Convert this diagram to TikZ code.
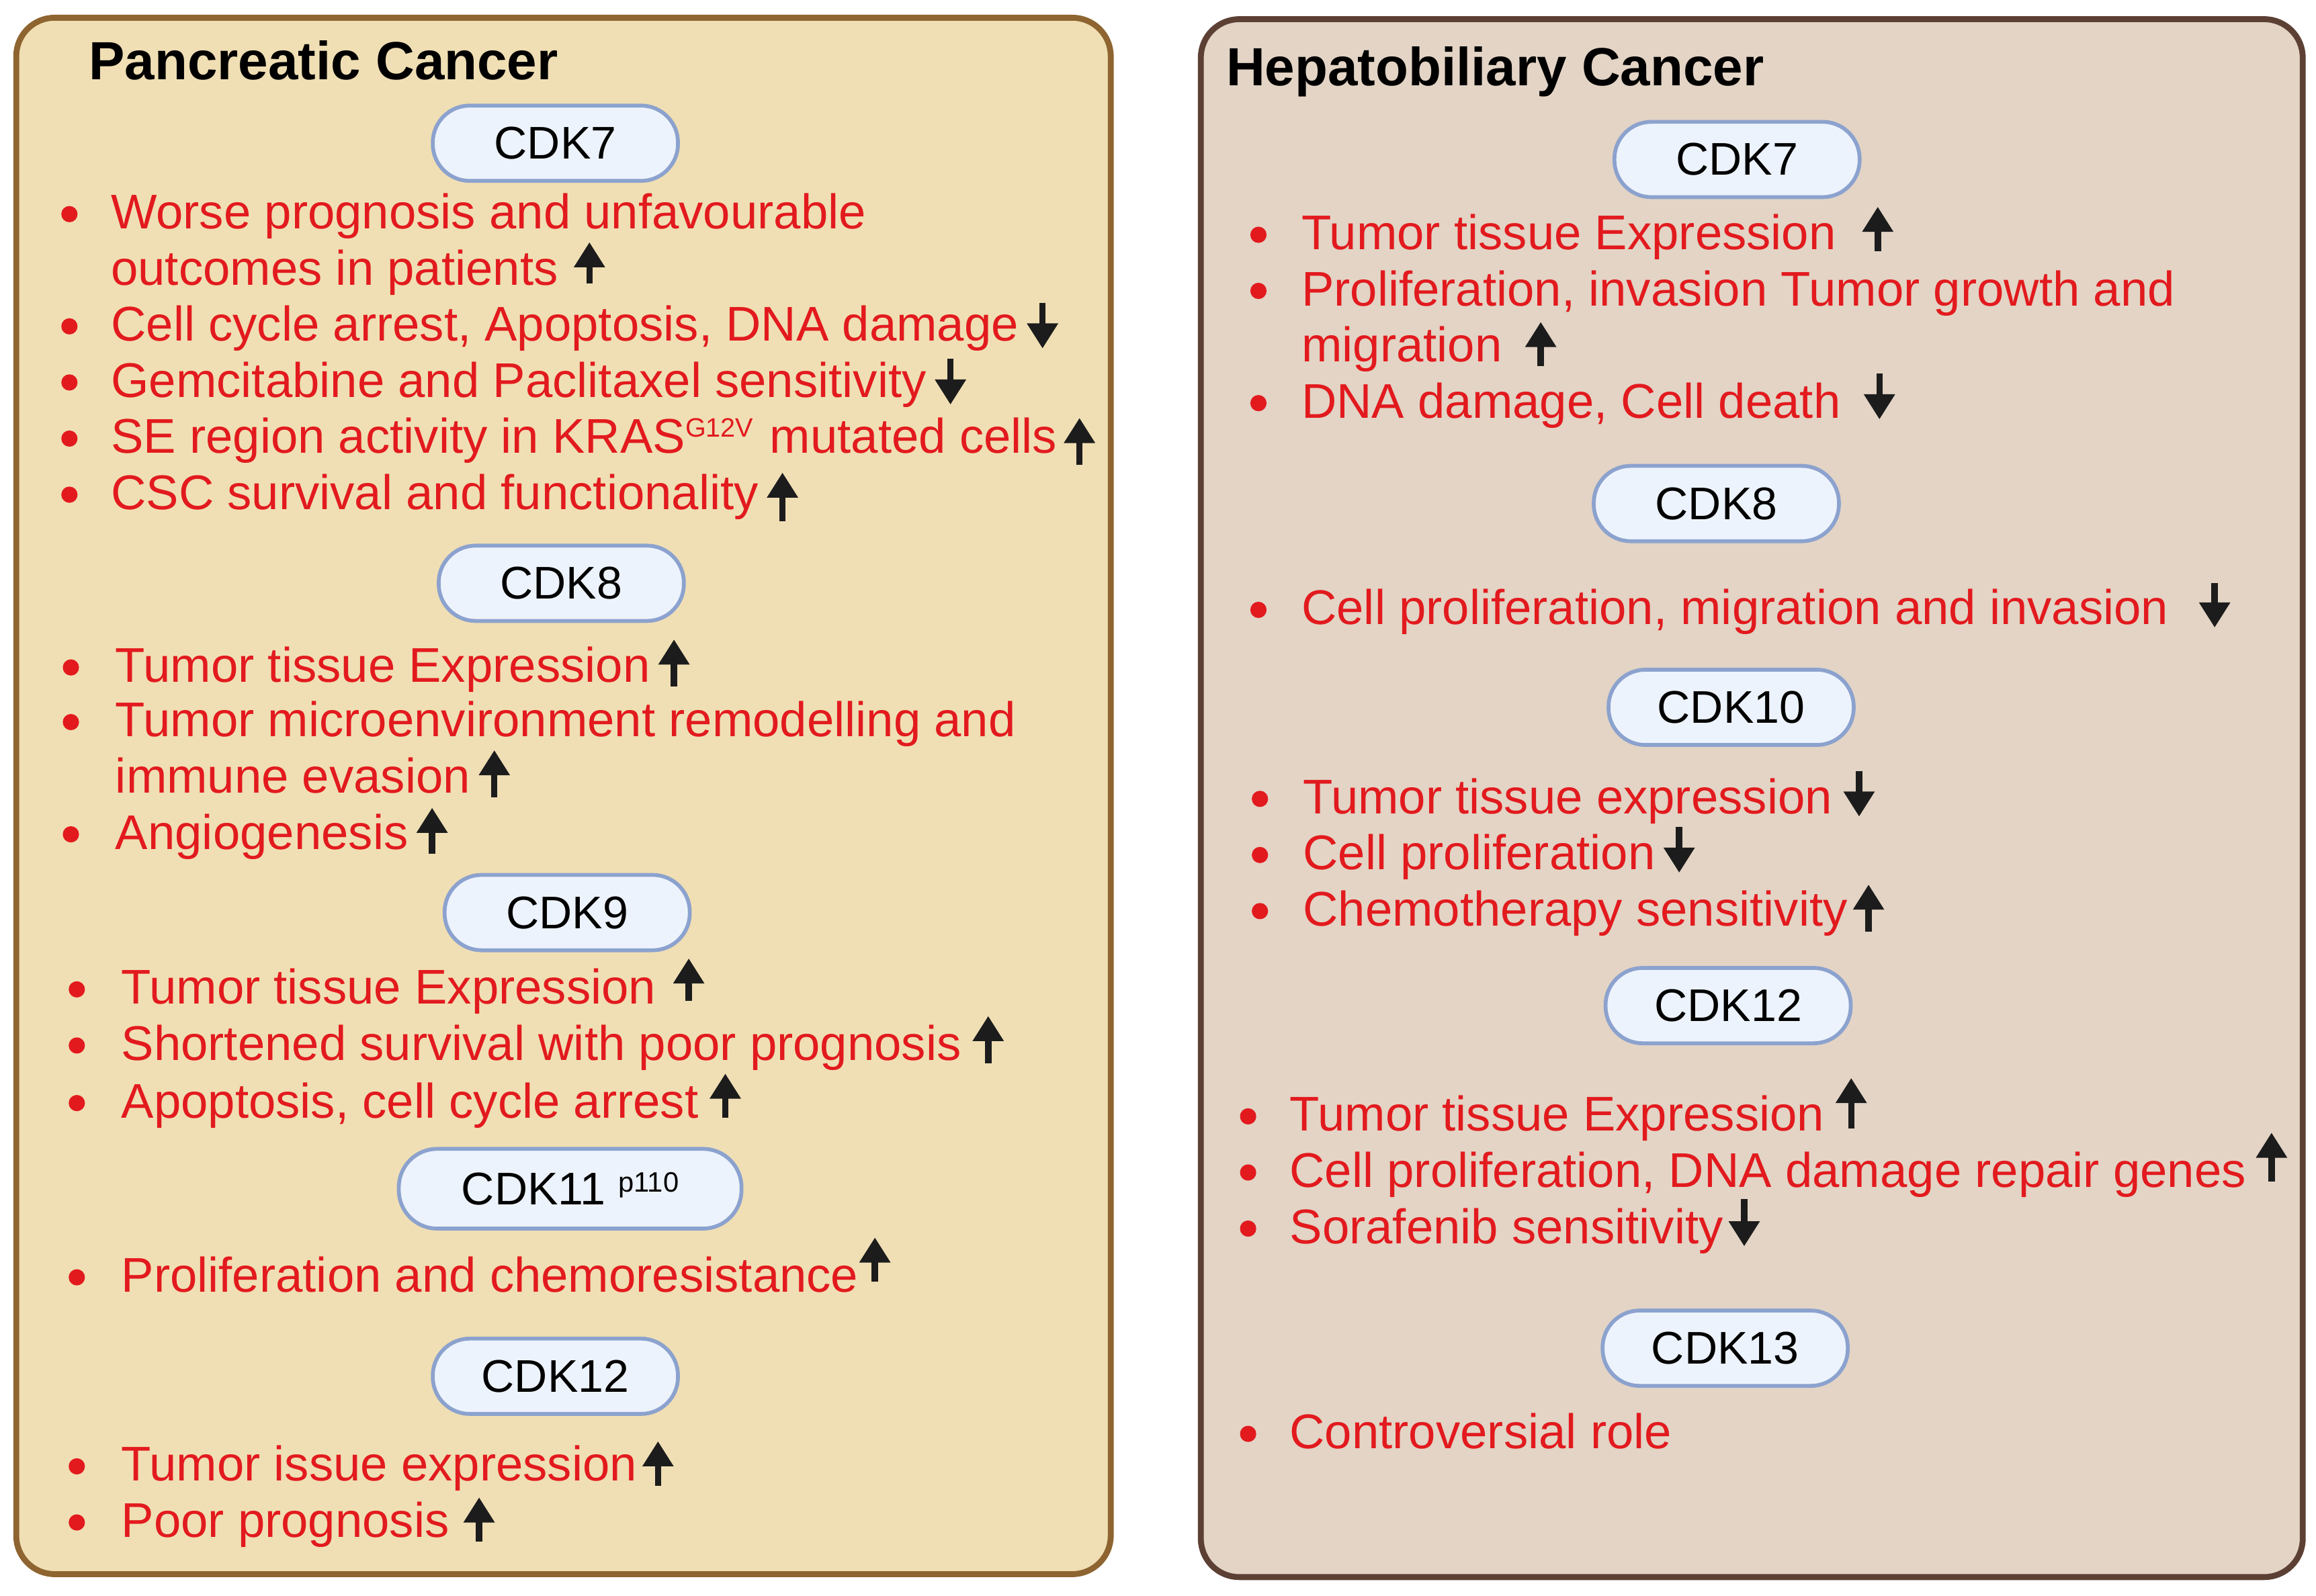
\documentclass[tikz,border=0pt]{standalone}
\usepackage{fontspec}
\setmainfont{Liberation Sans}
\usetikzlibrary{arrows.meta}
\definecolor{fillL}{RGB}{240,223,180}
\definecolor{lineL}{RGB}{142,100,48}
\definecolor{fillR}{RGB}{227,212,197}
\definecolor{lineR}{RGB}{92,64,51}
\definecolor{cdkfill}{RGB}{237,243,252}
\definecolor{cdkline}{RGB}{140,162,206}
\definecolor{txtred}{RGB}{226,26,30}
\definecolor{arrblack}{RGB}{28,28,28}
\tikzset{
  panelL/.style={draw=lineL, fill=fillL, line width=4pt, rounded corners=26pt},
  panelR/.style={draw=lineR, fill=fillR, line width=4pt, rounded corners=26pt},
  cdkbox/.style={draw=cdkline, fill=cdkfill, line width=2.6pt, rounded corners=25pt,
    minimum width=166pt, minimum height=51pt, inner sep=0pt,
    font=\fontsize{31}{34}\selectfont},
  txt/.style={anchor=base west, inner sep=0pt, text=txtred, font=\fontsize{33}{38}\selectfont},
  bul/.style={circle, fill=txtred, inner sep=0pt, minimum size=11pt},
  arr/.style={line width=4.3pt, draw=arrblack, -{Triangle[length=17pt,width=20pt]}},
  ttl/.style={anchor=base west, inner sep=0pt, font=\fontsize{36.4}{40}\selectfont\bfseries},
}
\newcommand{\bitem}[5]{\node[bul] (#1b) at (#2,#4-10) {};\node[txt] (#1) at (#3,#4) {#5};}
\newcommand{\litem}[4]{\node[txt] (#1) at (#2,#3) {#4};}
\newcommand{\arrU}[4]{\draw[arr] ([shift={(#2,#4)}]#1.base east) -- ([shift={(#2,#3)}]#1.base east);}
\newcommand{\arrD}[4]{\draw[arr] ([shift={(#2,#3)}]#1.base east) -- ([shift={(#2,#4)}]#1.base east);}
\begin{document}
\begin{tikzpicture}[x=1pt,y=-1pt]
\useasboundingbox (0,0) rectangle (1568,1080.8);
\fill[white] (0,0) rectangle (1568,1080.8);
% panels
\draw[panelL] (11,12) rectangle (752,1066);
\draw[panelR] (813,13) rectangle (1559,1068);
\node[ttl] (tL) at (60,54) {Pancreatic Cancer};
\node[ttl] (tR) at (830,58) {Hepatobiliary Cancer};
% ---------- left boxes
\node[cdkbox] (L7) at (376,97) {CDK7};
\node[cdkbox] (L8) at (380,395) {CDK8};
\node[cdkbox] (L9) at (384,618) {CDK9};
\node[cdkbox, minimum width=232pt, minimum height=54pt, rounded corners=26pt] (L11) at (386,805) {CDK11 \raisebox{9pt}{\fontsize{19}{20}\selectfont p110}\hspace{36pt}};
\node[cdkbox] (L12) at (376,932) {CDK12};
% ---------- left items
\bitem{l1}{47}{75}{155}{Worse prognosis and unfavourable}
\litem{l2}{75}{193}{outcomes in patients}
\bitem{l3}{47}{75}{231}{Cell cycle arrest, Apoptosis, DNA damage}
\bitem{l4}{47}{75}{269}{Gemcitabine and Paclitaxel sensitivity}
\bitem{l5}{47}{75}{307}{SE region activity in KRAS\raisebox{11pt}{\fontsize{18}{20}\selectfont G12V}\hspace{2pt} mutated cells}
\bitem{l6}{47}{75}{345}{CSC survival and functionality}
\bitem{l7}{48}{78}{462}{Tumor tissue Expression}
\bitem{l8}{48}{78}{499}{Tumor microenvironment remodelling and}
\litem{l9}{78}{537}{immune evasion}
\bitem{l10}{48}{78}{575}{Angiogenesis}
\bitem{l11}{52}{82}{680}{Tumor tissue Expression}
\bitem{l12}{52}{82}{718}{Shortened survival with poor prognosis}
\bitem{l13}{52}{82}{757}{Apoptosis, cell cycle arrest}
\bitem{l14}{52}{82}{875}{Proliferation and chemoresistance}
\bitem{l15}{52}{82}{1003}{Tumor issue expression}
\bitem{l16}{52}{82}{1041}{Poor prognosis}
% left arrows
\arrU{l2}{21}{-29}{-1}
\arrD{l3}{16}{-26}{5}
\arrD{l4}{16}{-26}{5}
\arrU{l5}{15}{-24}{8}
\arrU{l6}{16}{-25}{8}
\arrU{l7}{16}{-29}{3}
\arrU{l9}{16}{-29}{3}
\arrU{l10}{16}{-28}{3}
\arrU{l11}{22}{-31}{-2}
\arrU{l12}{18}{-30}{2}
\arrU{l13}{18}{-30}{0}
\arrU{l14}{11}{-37}{-7}
\arrU{l15}{14}{-27}{3}
\arrU{l16}{20}{-27}{3}
% ---------- right boxes
\node[cdkbox] (R7) at (1176,108) {CDK7};
\node[cdkbox] (R8) at (1162,341) {CDK8};
\node[cdkbox] (R10) at (1172,479) {CDK10};
\node[cdkbox] (R12) at (1170,681) {CDK12};
\node[cdkbox] (R13) at (1168,913) {CDK13};
% ---------- right items
\bitem{r1}{852}{881}{169}{Tumor tissue Expression}
\bitem{r2}{852}{881}{207}{Proliferation, invasion Tumor growth and}
\litem{r3}{881}{245}{migration}
\bitem{r4}{852}{881}{283}{DNA damage, Cell death}
\bitem{r5}{852}{881}{423}{Cell proliferation, migration and invasion}
\bitem{r6}{853}{882}{551}{Tumor tissue expression}
\bitem{r7}{853}{882}{589}{Cell proliferation}
\bitem{r8}{853}{882}{627}{Chemotherapy sensitivity}
\bitem{r9}{845}{873}{766}{Tumor tissue Expression}
\bitem{r10}{845}{873}{804}{Cell proliferation, DNA damage repair genes}
\bitem{r11}{845}{873}{842}{Sorafenib sensitivity}
\bitem{r12}{845}{873}{981}{Controversial role}
% right arrows
\arrU{r1}{28}{-29}{1}
\arrU{r3}{26}{-27}{3}
\arrD{r4}{26}{-30}{1}
\arrD{r5}{31}{-28}{2}
\arrD{r6}{18}{-29}{2}
\arrD{r7}{16}{-29}{2}
\arrU{r8}{14}{-28}{4}
\arrU{r9}{18}{-36}{-2}
\arrU{r10}{17}{-37}{-4}
\arrD{r11}{14}{-30}{2}
\end{tikzpicture}
\end{document}
